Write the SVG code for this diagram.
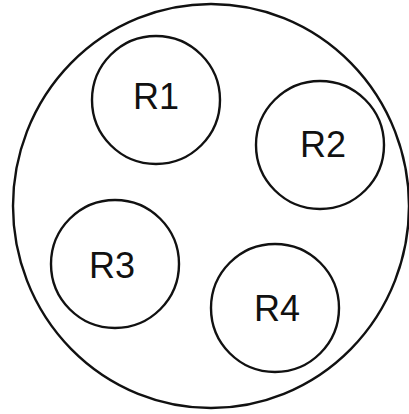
<svg xmlns="http://www.w3.org/2000/svg" width="409" height="414" viewBox="0 0 409 414">
<style>
.c{fill:none;stroke:#111;stroke-width:2.4}
.t{font-family:"Liberation Sans",Arial,sans-serif;font-size:36px;fill:#111;text-anchor:middle}
</style>
<rect width="409" height="414" fill="#fff"/>
<g id="outer"><ellipse class="c" cx="211" cy="206" rx="198" ry="202"/></g>
<g id="R1"><circle class="c" cx="156" cy="100" r="64"/><text class="t" x="156" y="109">R1</text></g>
<g id="R2"><circle class="c" cx="320" cy="145" r="64"/><text class="t" x="323" y="157">R2</text></g>
<g id="R3"><circle class="c" cx="115" cy="264" r="64"/><text class="t" x="112" y="278">R3</text></g>
<g id="R4"><circle class="c" cx="275" cy="308" r="64"/><text class="t" x="277" y="321">R4</text></g>
<g id="connectors"/>
</svg>
